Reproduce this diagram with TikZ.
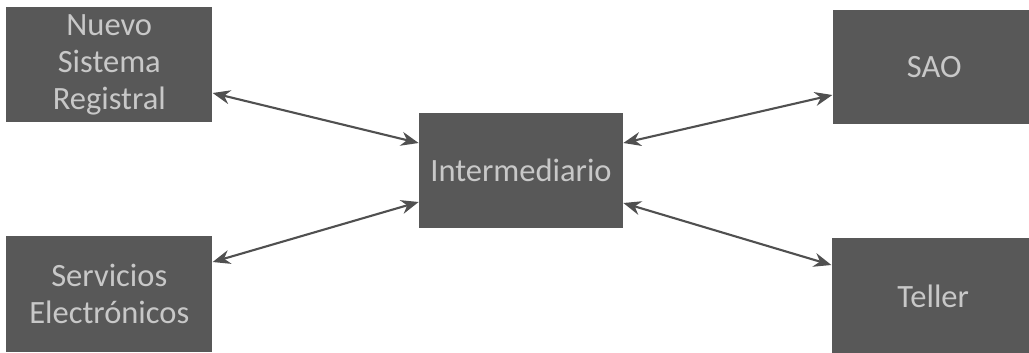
\documentclass[tikz,border=0pt]{standalone}
\usepackage{fontspec}
\setmainfont{Carlito}
\usepackage{tikz}
\usetikzlibrary{arrows.meta,positioning}
\definecolor{boxgray}{RGB}{88,88,88}
\definecolor{txtgray}{RGB}{200,200,200}
\definecolor{arrgray}{RGB}{80,80,80}

\begin{document}
\begin{tikzpicture}[
    sysbox/.style={fill=boxgray,draw=none,text=txtgray,align=center,inner sep=0pt,
      font=\fontsize{18.5}{21}\selectfont},
    link/.style={{Stealth[length=10pt,width=8pt]}-{Stealth[length=10pt,width=8pt]},line width=1.2pt,arrgray}]
        \useasboundingbox (0,0) rectangle (20.58,-7.04);
        \node[sysbox,minimum width=4.08cm,minimum height=2.3cm] (inter) at (10.42,-3.41) {Intermediario};
        \node[sysbox,minimum width=4.12cm,minimum height=2.3cm,left=4.12cm of inter,yshift=2.12cm] (nsr) {Nuevo\\Sistema\\Registral};
        \node[sysbox,minimum width=4.12cm,minimum height=2.32cm,left=4.12cm of inter,yshift=-2.47cm] (serv) {Servicios\\Electrónicos};
        \node[sysbox,minimum width=4.06cm,minimum height=2.28cm,right=4.18cm of inter,yshift=2.07cm] (sao) {SAO};
        \node[sysbox,minimum width=4.06cm,minimum height=2.32cm,right=4.16cm of inter,yshift=-2.51cm] (teller) {Teller};
        \draw[link] ([yshift=-0.57cm]nsr.east) -- ([yshift=0.55cm]inter.west);
        \draw[link] ([yshift=0.64cm]serv.east) -- ([yshift=-0.63cm]inter.west);
        \draw[link] ([yshift=0.55cm]inter.east) -- ([yshift=-0.56cm]sao.west);
        \draw[link] ([yshift=-0.65cm]inter.east) -- ([yshift=0.62cm]teller.west);
      \end{tikzpicture}
\end{document}
